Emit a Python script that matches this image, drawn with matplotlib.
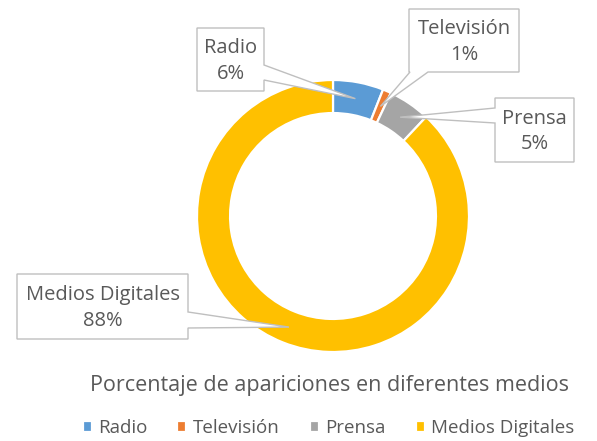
import numpy as np
import matplotlib
matplotlib.use('Agg')
import matplotlib.pyplot as plt
from matplotlib.patches import Polygon

# datos del grafico
medios = ['Radio', 'Televisión', 'Prensa', 'Medios Digitales']
porcentajes = [6, 1, 5, 88]
colores = ['#5B9BD5', '#ED7D31', '#A5A5A5', '#FFC000']
titulo = 'Porcentaje de apariciones en diferentes medios'

plt.rcParams['font.family'] = ['Open Sans', 'DejaVu Sans']
GRIS = '#595959'

W, H = 597, 441
fig = plt.figure(figsize=(W/100, H/100), dpi=100)

# donut: centro y radio en pixeles
cx, cy, R = 333, 216, 136
ax = fig.add_axes([(cx-R)/W, 1-(cy+R)/H, 2*R/W, 2*R/H])
grosor = 0.243
wedges, _ = ax.pie(porcentajes, colors=colores, startangle=90, counterclock=False,
                   radius=1, wedgeprops=dict(width=grosor, edgecolor='white', linewidth=1.6))
ax.set_xlim(-1, 1)
ax.set_ylim(-1, 1)
ax.set_aspect('equal')

# capa encima en coordenadas de pixel para las etiquetas
ov = fig.add_axes([0, 0, 1, 1])
ov.set_xlim(0, W)
ov.set_ylim(H, 0)
ov.axis('off')

# punto medio de cada porcion
fracs = np.array(porcentajes) / np.sum(porcentajes)
acum = np.cumsum(fracs) - fracs/2
ang = np.deg2rad(90 - 360*acum)
r_mid = R*(1 - grosor/2)
puntas = [(cx + r_mid*np.cos(a), cy - r_mid*np.sin(a)) for a in ang]

# cajas: (x0, y0, x1, y1, lado, a, b)
cajas = [
    (197, 28, 264, 91, 'right', 65, 80),
    (409, 9, 519, 72, 'bottom', 410, 428),
    (495, 98, 574, 162, 'left', 108, 123),
    (17, 274, 188, 339, 'right', 312, 328),
]

for (x0, y0, x1, y1, lado, a, b), punta, nombre, p in zip(cajas, puntas, medios, porcentajes):
    if lado == 'right':
        pts = [(x0, y0), (x1, y0), (x1, a), punta, (x1, b), (x1, y1), (x0, y1)]
    elif lado == 'left':
        pts = [(x0, y0), (x1, y0), (x1, y1), (x0, y1), (x0, b), punta, (x0, a)]
    else:
        pts = [(x0, y0), (x1, y0), (x1, y1), (b, y1), punta, (a, y1), (x0, y1)]
    ov.add_patch(Polygon(pts, closed=True, facecolor='white', edgecolor='#BFBFBF', lw=1.0))
    ov.text((x0+x1)/2, (y0+y1)/2 + 1.5, f'{nombre}\n{p}%', ha='center', va='center',
            color=GRIS, fontsize=14.5, linespacing=1.39)

ov.text(330, 385, titulo, ha='center', va='center', color=GRIS, fontsize=15.5)

fig.legend(wedges, medios, ncol=4, loc='center', bbox_to_anchor=(328.5/W, 1-428/H),
           frameon=False, handlelength=0.48, handleheight=0.48, handletextpad=0.35,
           columnspacing=1.6, fontsize=13.5, labelcolor=GRIS)

fig.savefig('out.png', dpi=100)
